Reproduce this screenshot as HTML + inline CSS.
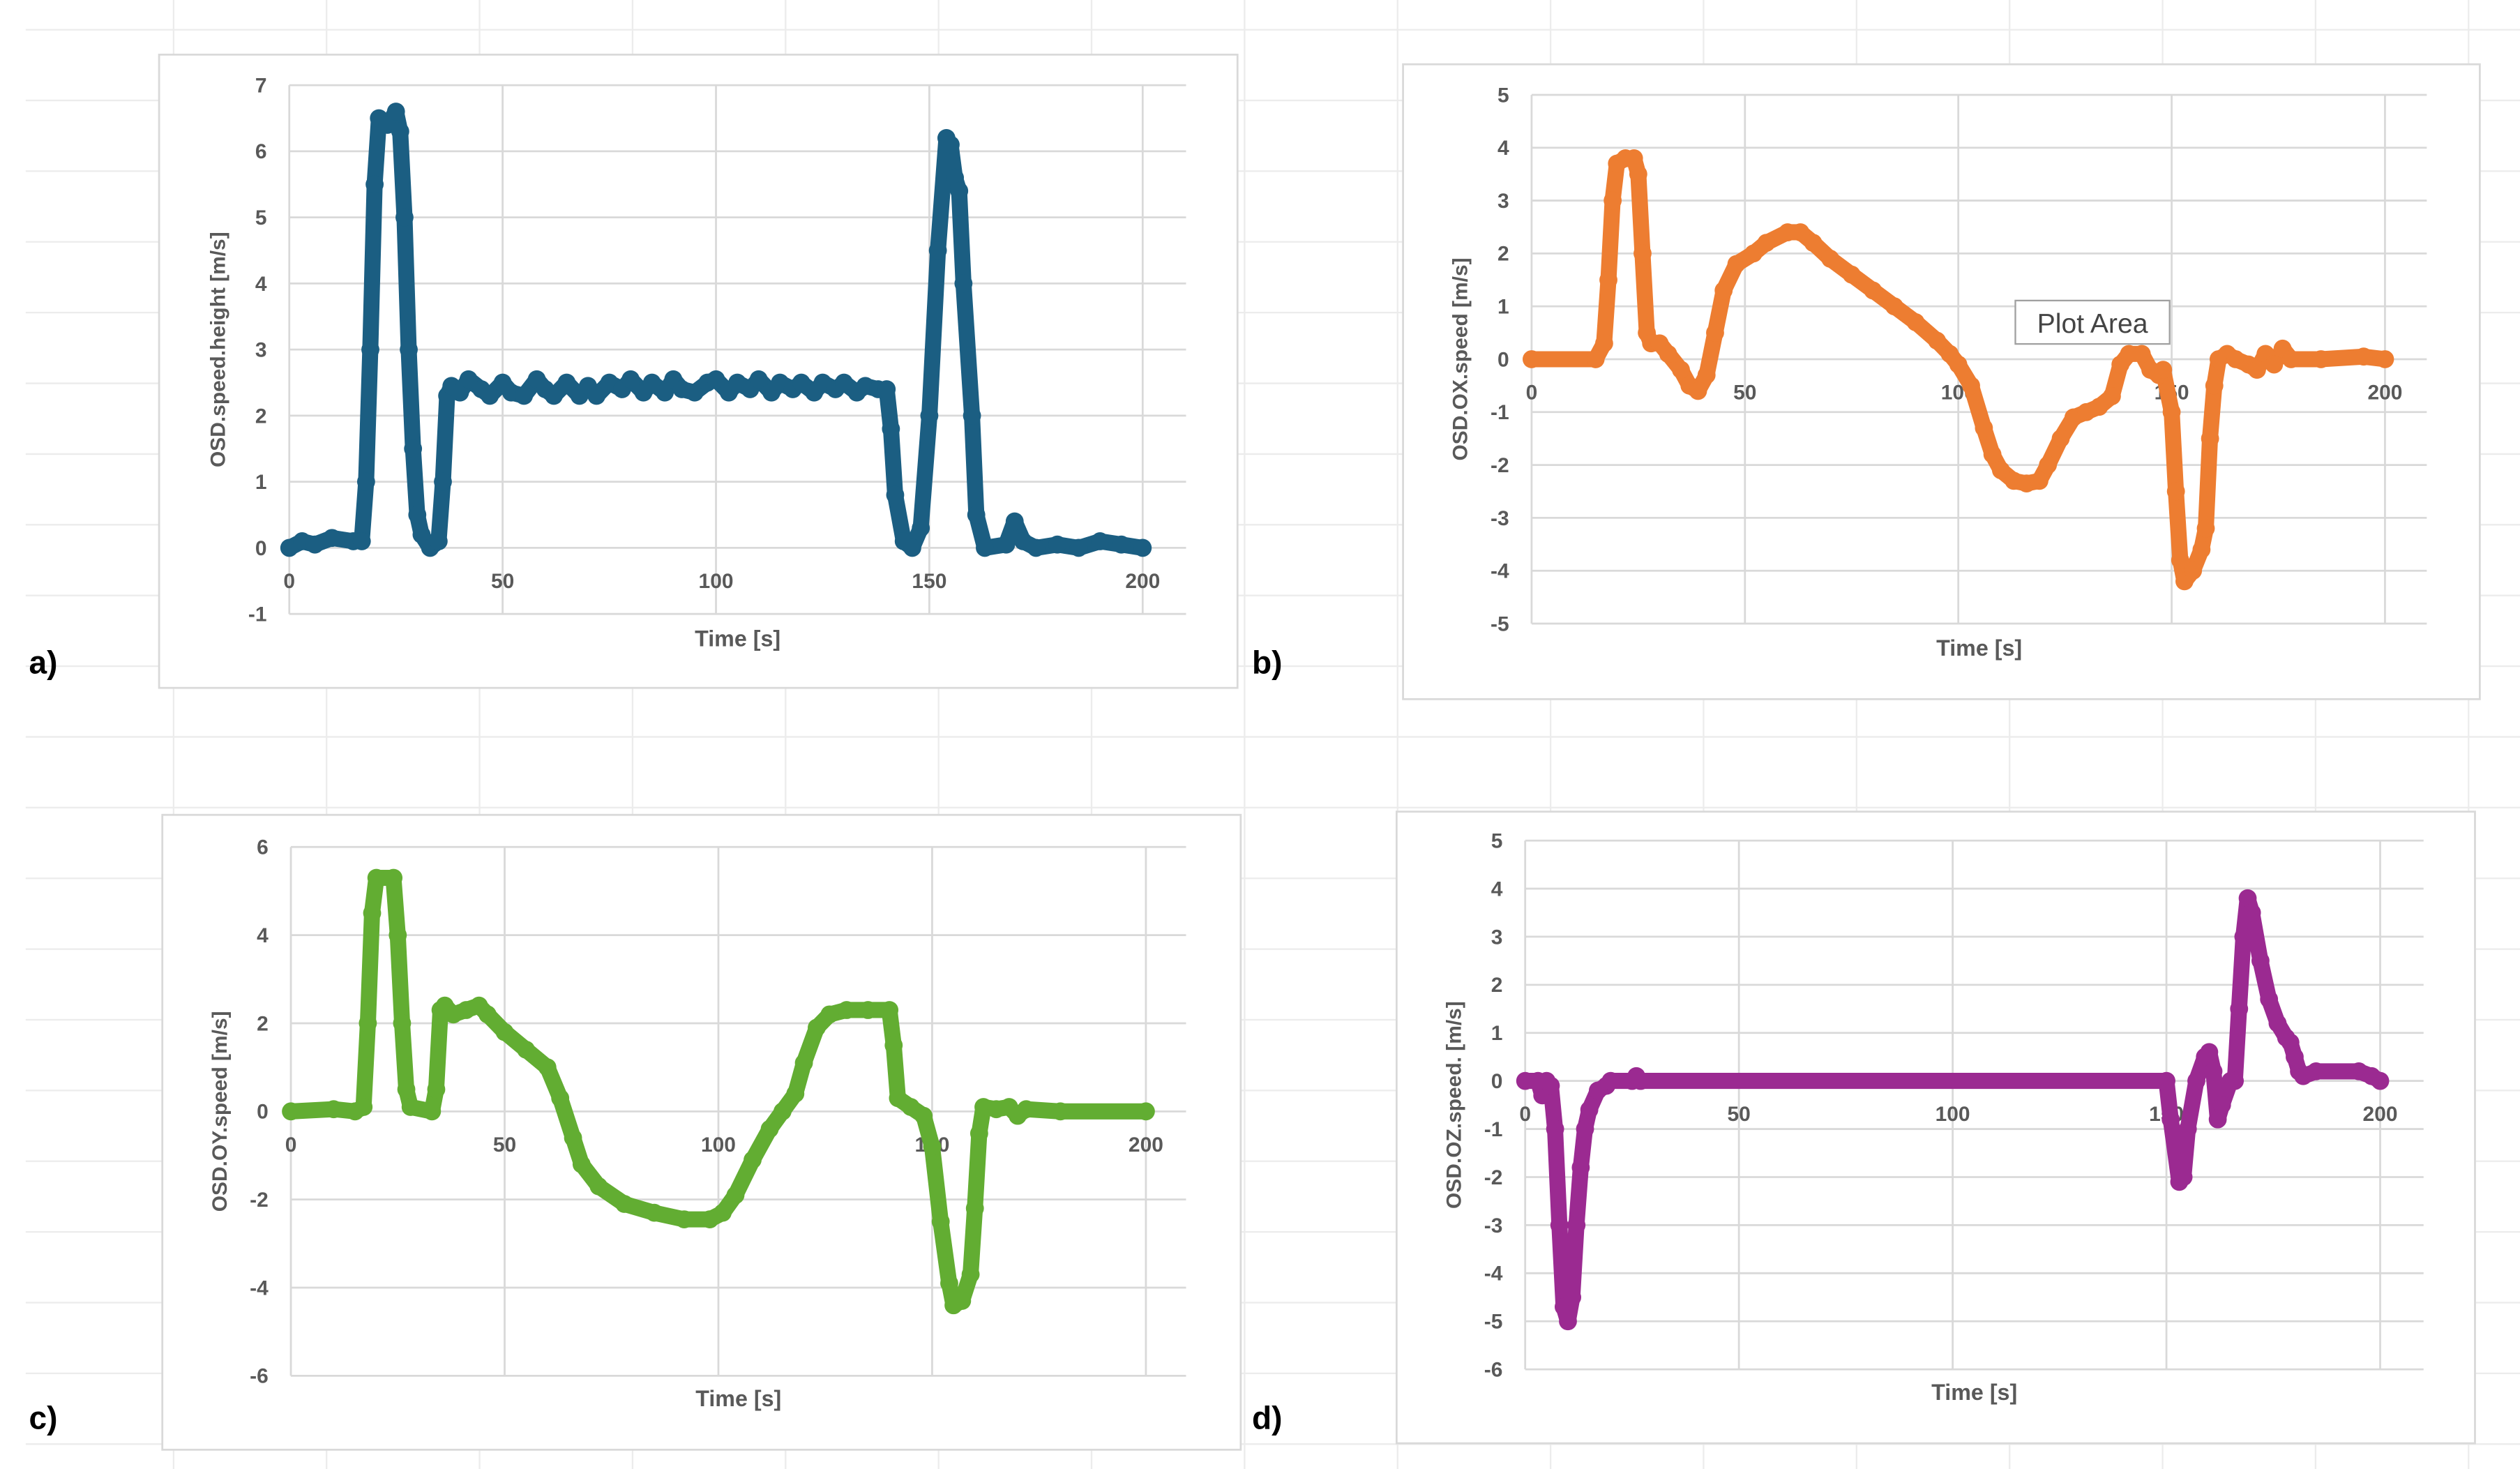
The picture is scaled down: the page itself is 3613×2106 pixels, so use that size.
<!DOCTYPE html>
<html><head><meta charset="utf-8"><style>
html,body{margin:0;padding:0;background:#fff;}
svg{display:block;}
text{font-family:"Liberation Sans Narrow","Liberation Sans",sans-serif;}
</style></head><body>
<svg id="s" width="3613" height="2106" viewBox="0 0 1568 914" preserveAspectRatio="none" xmlns="http://www.w3.org/2000/svg"></svg>
<script>
// ---- data ----
const aT=[0,3,6,10,15,17,18,19,20,21,23,25,26,27,28,29,30,31,33,35,36,37,38,40,42,45,47,50,52,55,58,60,62,65,68,70,72,75,78,80,83,85,88,90,92,95,98,100,103,105,108,110,113,115,118,120,123,125,128,130,133,135,138,140,141,142,144,146,148,150,152,154,155,156,157,158,160,161,163,168,170,172,175,180,185,190,195,200];
const aV=[0,0.1,0.05,0.15,0.1,0.1,1,3,5.5,6.5,6.4,6.6,6.3,5,3,1.5,0.5,0.2,0,0.1,1,2.3,2.45,2.35,2.55,2.4,2.3,2.5,2.35,2.3,2.55,2.4,2.3,2.5,2.3,2.45,2.3,2.5,2.4,2.55,2.35,2.5,2.35,2.55,2.4,2.35,2.5,2.55,2.35,2.5,2.4,2.55,2.35,2.5,2.4,2.5,2.35,2.5,2.4,2.5,2.35,2.45,2.4,2.4,1.8,0.8,0.1,0,0.3,2,4.5,6.2,6.1,5.6,5.4,4,2,0.5,0,0.05,0.4,0.1,0,0.05,0,0.1,0.05,0];
const bT=[0,15,17,18,19,20,22,24,25,26,27,28,30,32,35,37,39,41,43,45,48,52,55,60,63,66,70,75,80,85,90,95,98,100,103,106,108,110,113,116,119,121,124,127,130,133,136,138,140,143,145,147,148,150,151,152,153,155,157,158,159,160,161,163,165,168,170,172,174,176,178,185,195,200];
const bV=[0,0,0.3,1.5,3,3.7,3.8,3.8,3.5,2,0.5,0.3,0.3,0.1,-0.2,-0.5,-0.6,-0.3,0.5,1.3,1.8,2.0,2.2,2.4,2.4,2.2,1.9,1.6,1.3,1.0,0.7,0.35,0.1,-0.1,-0.5,-1.3,-1.8,-2.1,-2.3,-2.35,-2.3,-2.0,-1.5,-1.1,-1.0,-0.9,-0.7,-0.1,0.1,0.1,-0.2,-0.3,-0.2,-1.0,-2.5,-3.8,-4.2,-4,-3.6,-3.2,-1.5,-0.5,0,0.1,0,-0.1,-0.2,0.1,-0.1,0.2,0,0,0.05,0];
const cT=[0,10,15,17,18,19,20,24,25,26,27,28,33,34,35,36,38,41,44,46,50,55,60,63,66,68,72,78,85,92,98,101,104,108,112,115,118,120,123,126,130,135,140,141,142,145,148,150,152,154,155,157,159,160,161,162,165,168,170,172,180,200];
const cV=[0,0.05,0,0.1,2,4.5,5.3,5.3,4,2,0.5,0.1,0,0.5,2.3,2.4,2.2,2.3,2.4,2.2,1.8,1.4,1.0,0.3,-0.6,-1.2,-1.7,-2.1,-2.3,-2.45,-2.45,-2.3,-1.9,-1.1,-0.4,0,0.4,1.1,1.9,2.2,2.3,2.3,2.3,1.5,0.3,0.1,-0.1,-0.8,-2.5,-3.9,-4.4,-4.3,-3.7,-2.2,-0.5,0.1,0.05,0.1,-0.1,0.05,0,0];
const dT=[0,3,4,5,6,7,8,9,10,11,12,13,14,15,17,19,20,25,26,27,150,151,153,154,155,157,159,160,161,162,163,165,166,167,168,169,170,172,174,176,178,179,180,181,182,185,195,198,200];
const dV=[0,0,-0.3,0,-0.1,-1,-3,-4.7,-5,-4.5,-3,-1.8,-1,-0.6,-0.2,-0.1,0,0,0.1,0,0,-0.8,-2.1,-2.0,-1,0,0.5,0.6,0.2,-0.8,-0.5,0,0,1.5,3,3.8,3.5,2.5,1.7,1.2,0.9,0.8,0.5,0.2,0.1,0.2,0.2,0.1,0];
const xTicks=[0,50,100,150,200];
const aY=[-1,0,1,2,3,4,5,6,7];
const bY=[-5,-4,-3,-2,-1,0,1,2,3,4,5];
const cY=[-6,-4,-2,0,2,4,6];
const dY=[-6,-5,-4,-3,-2,-1,0,1,2,3,4,5];

const NS="http://www.w3.org/2000/svg";
const svg=document.getElementById('s');
function mk(tag,attrs,parent){const e=document.createElementNS(NS,tag);for(const k in attrs)e.setAttribute(k,attrs[k]);(parent||svg).appendChild(e);return e;}

const bg=mk('g',{});


for(let x=108;x<1568;x+=95.2){mk('line',{x1:x,y1:0,x2:x,y2:914,stroke:'#ececec','stroke-width':1},bg);}
for(let y=18.5;y<914;y+=44){mk('line',{x1:16,y1:y,x2:1568,y2:y,stroke:'#ececec','stroke-width':1},bg);}

function chart(cfg){
  const g=mk('g',{});
  
  
  mk('rect',{x:cfg.box[0],y:cfg.box[1],width:cfg.box[2]-cfg.box[0],height:cfg.box[3]-cfg.box[1],fill:'#fff',stroke:'#d9d9d9','stroke-width':1.2},g);
  const ymin=cfg.yt[0],ymax=cfg.yt[cfg.yt.length-1];
  const X=t=>cfg.x0+(t-0)/200*(cfg.x200-cfg.x0);
  const Y=v=>cfg.yTop+(ymax-v)/(ymax-ymin)*(cfg.yBot-cfg.yTop);
  cfg.yt.forEach(v=>{
    const l=mk('line',{x1:cfg.x0,x2:cfg.xr,y1:Y(v),y2:Y(v),stroke:'#d9d9d9','stroke-width':1.2},g);
    
    
    const t=mk('text',{x:cfg.x0-14,y:Y(v)+4.5,'text-anchor':'end','font-size':13,'font-weight':'bold',fill:'#595959'},g);
    
    
    t.textContent=v;
  });
  xTicks.forEach(v=>{
    const l=mk('line',{x1:X(v),x2:X(v),y1:cfg.yTop,y2:cfg.yBot,stroke:'#d9d9d9','stroke-width':1.2},g);
    
    
    const t=mk('text',{x:X(v),y:Y(0)+25,'text-anchor':'middle','font-size':13,'font-weight':'bold',fill:'#595959'},g);
    
    
    t.textContent=v;
  });
  const pts=cfg.T.map((t,i)=>X(t).toFixed(1)+','+Y(cfg.V[i]).toFixed(1)).join(' ');
  const pl=mk('polyline',{points:pts,fill:'none',stroke:cfg.color,'stroke-width':10,'stroke-linejoin':'round','stroke-linecap':'round'},g);
  
  
  cfg.T.forEach((t,i)=>{
    const c=mk('circle',{cx:X(t),cy:Y(cfg.V[i]),r:5.6,fill:cfg.color},g);
    
    
  });
  const yt=mk('text',{transform:`translate(${cfg.x0-40},${(cfg.yTop+cfg.yBot)/2}) rotate(-90)`,'text-anchor':'middle','font-size':13,'font-weight':'bold',fill:'#595959'},g);
  
  
  yt.textContent=cfg.ytitle;
  const xt=mk('text',{x:(cfg.x0+cfg.xr)/2,y:cfg.xtY,'text-anchor':'middle','font-size':14,'font-weight':'bold',fill:'#595959'},g);
  
  
  xt.textContent='Time [s]';
  const pl2=mk('text',{x:cfg.lab[0],y:cfg.lab[1],'font-size':20,'font-weight':'bold',fill:'#000'});
  
  
  pl2.textContent=cfg.labText;
}
chart({name:'chart-a',box:[99,34,770,428],x0:180,x200:711,xr:738,yTop:53,yBot:382,yt:aY,T:aT,V:aV,color:'#1b5e82',ytitle:'OSD.speed.height [m/s]',xtY:402,lab:[18,419],labText:'a)'});
chart({name:'chart-b',box:[873,40,1543,435],x0:953,x200:1484,xr:1510,yTop:59,yBot:388,yt:bY,T:bT,V:bV,color:'#ed7d31',ytitle:'OSD.OX.speed [m/s]',xtY:408,lab:[779,419],labText:'b)'});
chart({name:'chart-c',box:[101,507,772,902],x0:181,x200:713,xr:738,yTop:527,yBot:856,yt:cY,T:cT,V:cV,color:'#62ad32',ytitle:'OSD.OY.speed [m/s]',xtY:875,lab:[18,889],labText:'c)'});
chart({name:'chart-d',box:[869,505,1540,898],x0:949,x200:1481,xr:1508,yTop:523,yBot:852,yt:dY,T:dT,V:dV,color:'#9b2a91',ytitle:'OSD.OZ.speed. [m/s]',xtY:871,lab:[779,889],labText:'d)'});

const tip=mk('g',{});


mk('rect',{x:1254,y:187,width:96,height:27,fill:'#fff',stroke:'#a0a0a0','stroke-width':1},tip);
const tt=mk('text',{x:1302,y:207,'text-anchor':'middle','font-size':17,fill:'#444','font-family':'Liberation Sans, sans-serif'},tip);
tt.textContent='Plot Area';
</script>
</body></html>
